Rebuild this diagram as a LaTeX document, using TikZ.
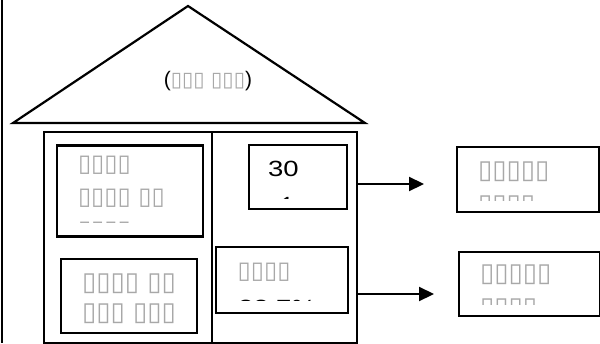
\documentclass[tikz,border=0pt]{standalone}
\usepackage{fontspec}
\setmainfont{Liberation Sans}
\newfontfamily\dvs{DejaVu Sans}
\usetikzlibrary{arrows.meta}
\definecolor{tofugray}{gray}{0.66}
\newcommand\tofu[1]{{\dvs\color{tofugray}#1}}
\begin{document}
\begin{tikzpicture}[x=1pt,y=-1pt,line width=2pt,
  box/.style={draw,line width=2.2pt,inner sep=0pt,anchor=north west},
  txt/.style={inner sep=0pt,anchor=west,font=\fontsize{24}{26}\selectfont},
  txtb/.style={inner sep=0pt,anchor=west,font=\fontsize{26}{28}\selectfont},
  num/.style={inner sep=0pt,anchor=west,font=\fontsize{22}{24}\selectfont},
  arr/.style={-{Triangle[length=15pt,width=14pt]},line width=2.2pt}]
\useasboundingbox (0,0) rectangle (600,343);
% left frame line
\draw[line width=2.2pt] (2,0) -- (2,343);
% roof
\coordinate (rl) at (13,123);
\coordinate (rt) at (188,6);
\coordinate (rr) at (365,123);
\draw[line width=2.2pt,line join=miter] (rl) -- (rt) -- (rr) -- cycle;
\node[inner sep=0pt,font=\fontsize{21}{24}\selectfont] (roofl) at (208,81) {(\tofu{\fontsize{20.5}{24}\selectfont▯▯▯ ▯▯▯})};
% house
\node[box,line width=2pt,minimum width=313pt,minimum height=211pt] (house) at (43,131) {};
\draw (211.5,131) -- (211.5,342);
% boxes
\node[box,minimum width=146pt,minimum height=91pt] (A) at (55.7,144.3) {};
\node[box,minimum width=136pt,minimum height=74pt] (B) at (60,258) {};
\node[box,minimum width=98pt,minimum height=64pt] (C) at (247.7,144) {};
\node[box,minimum width=132pt,minimum height=66pt] (D) at (215,246) {};
\node[box,minimum width=142pt,minimum height=65pt] (E) at (455.7,146) {};
\node[box,minimum width=141pt,minimum height=64pt] (F) at (457.7,250.7) {};
% texts in A
\begin{scope}
\clip (55.7,144.3) rectangle (202,222.5);
\node[txt] (a1) at (77,165) {\tofu{▯▯▯▯}};
\node[txt] (a2) at (77,198) {\tofu{▯▯▯▯ ▯▯}};
\node[txt] (a3) at (77,231) {\tofu{▯▯▯▯}};
\end{scope}
% texts in B
\node[txtb] (b1) at (81,284) {\tofu{▯▯▯▯ ▯▯}};
\node[txtb] (b2) at (81,314) {\tofu{▯▯▯ ▯▯▯}};
% texts in C
\begin{scope}
\clip (247.7,144) rectangle (346,198);
\node[num] (c1) at (267,169) {\scalebox{1.25}[1]{30}};
\node[num] (c2) at (280,205) {1};
\end{scope}
% texts in D
\begin{scope}
\clip (215,246) rectangle (346,300.5);
\node[txt] (d1) at (236.7,272) {\tofu{▯▯▯▯}};
\node[num] (d2) at (237,307.5) {\scalebox{1.25}[1]{22.7\%}};
\end{scope}
% texts in E
\begin{scope}
\clip (455.7,146) rectangle (598,200);
\node[txtb] (e1) at (477,172) {\tofu{▯▯▯▯▯}};
\node[txtb] (e2) at (477,206) {\tofu{▯▯▯▯}};
\end{scope}
% texts in F
\begin{scope}
\clip (457.7,250.7) rectangle (599,304);
\node[txtb] (f1) at (479,275) {\tofu{▯▯▯▯▯}};
\node[txtb] (f2) at (479,309) {\tofu{▯▯▯▯}};
\end{scope}
% arrows
\coordinate (t1) at (424,184);
\coordinate (t2) at (434,294);
\draw[arr] (house.east |- t1) -- (t1);
\draw[arr] (house.east |- t2) -- (t2);
\end{tikzpicture}
\end{document}
